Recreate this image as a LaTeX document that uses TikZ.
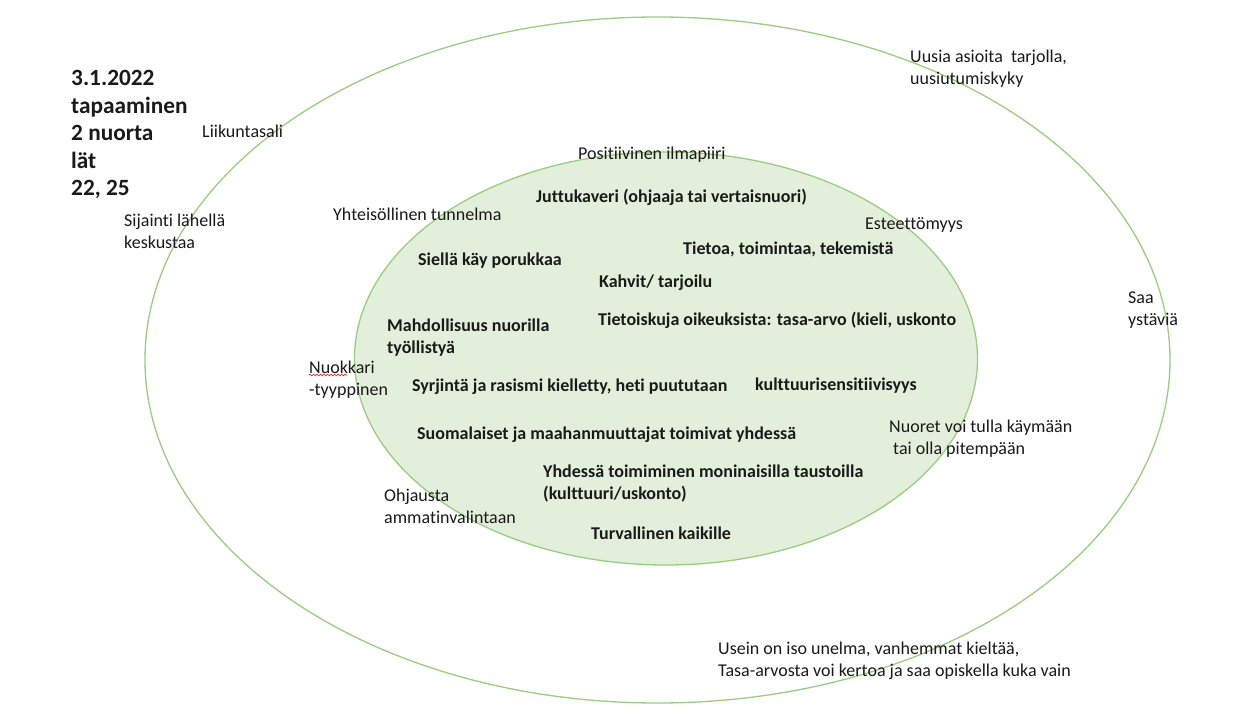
\documentclass[tikz,border=0pt]{standalone}
\usepackage{fontspec}
\setmainfont[Ligatures=NoCommon]{Carlito}
\usetikzlibrary{shapes.geometric,decorations.pathmorphing}
\definecolor{ringline}{HTML}{9CCC80}
\definecolor{innerfill}{HTML}{E2EFDA}
\definecolor{txt}{HTML}{1A1A1A}
\tikzset{
  lbl/.style={anchor=west, inner sep=0pt, align=left, text=txt, yshift=-1.5bp,
    font=\fontsize{18bp}{22bp}\selectfont},
  blbl/.style={lbl, font=\fontsize{18bp}{22bp}\selectfont\bfseries},
  ttl/.style={lbl, font=\fontsize{23.3bp}{27.5bp}\selectfont\bfseries}
}
\begin{document}
\begin{tikzpicture}[x=1bp,y=-1bp]
\useasboundingbox (0,0) rectangle (1254,708);
\fill[white] (0,0) rectangle (1254,708);
% rings
\node[ellipse, draw=ringline, line width=1.3bp, minimum width=1025bp, minimum height=686bp, inner sep=0pt] (outer) at (657.5,360) {};
\node[ellipse, draw=ringline, fill=innerfill, line width=1.3bp, minimum width=623bp, minimum height=413bp, inner sep=0pt] (inner) at (666,358.5) {};
% title
\node[ttl] (title) at (71,133) {3.1.2022\\tapaaminen\\2 nuorta\\lät\\22, 25};
% outer ring texts
\node[lbl] (uusia) at (910,67) {Uusia asioita\ \ tarjolla,\\uusiutumiskyky};
\node[lbl] (liikunta) at (202,130) {Liikuntasali};
\node[lbl] (sijainti) at (124,230) {Sijainti lähellä\\keskustaa};
\node[lbl] (positiivinen) at (578,153) {Positiivinen ilmapiiri};
\node[lbl] (yhteis) at (333,213) {Yhteisöllinen tunnelma};
\node[lbl] (esteet) at (865,223) {Esteettömyys};
\node[lbl] (saa) at (1128,309) {Saa\\ystäviä};
\node[lbl] (nuokkari) at (309,378) {Nuokkari\\-tyyppinen};
\node[lbl] (nuoret) at (889,437) {Nuoret voi tulla käymään\\\hspace*{4bp}tai olla pitempään};
\node[lbl] (ohjaus) at (384,505) {Ohjausta\\ammatinvalintaan};
\node[lbl] (usein) at (718,659.5) {Usein on iso unelma, vanhemmat kieltää,\\Tasa-arvosta voi kertoa ja saa opiskella kuka vain};
% spell-check underline
\draw[red, line width=0.6bp, decoration={snake, amplitude=0.9bp, segment length=3.5bp}, decorate]
  (nuokkari.west |- 0,375) -- ++(38,0);
% inner ring texts
\node[blbl] (jutt) at (536,196) {Juttukaveri (ohjaaja tai vertaisnuori)};
\node[blbl] (tietoa) at (683,248) {Tietoa, toimintaa, tekemistä};
\node[blbl] (siella) at (418,259) {Siellä käy porukkaa};
\node[blbl] (kahvit) at (599,281) {Kahvit/ tarjoilu};
\node[blbl] (mahd) at (387,336) {Mahdollisuus nuorilla\\työllistyä};
\node[blbl] (tietoisk) at (598,319) {Tietoiskuja oikeuksista: tasa-arvo (kieli, uskonto};
\node[blbl] (syrj) at (412,385) {Syrjintä ja rasismi kielletty, heti puututaan};
\node[blbl] (kultt) at (755,384) {kulttuurisensitiivisyys};
\node[blbl] (suom) at (417,433) {Suomalaiset ja maahanmuuttajat toimivat yhdessä};
\node[blbl] (yhdessa) at (543,482) {Yhdessä toimiminen moninaisilla taustoilla\\(kulttuuri/uskonto)};
\node[blbl] (turv) at (591,532) {Turvallinen kaikille};
\end{tikzpicture}
\end{document}
